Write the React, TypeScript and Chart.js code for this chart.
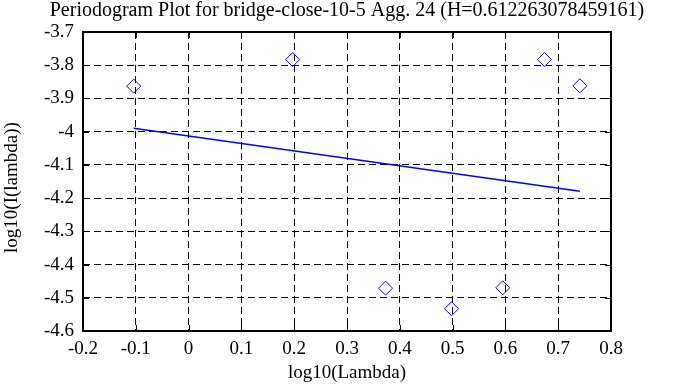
import React, { useEffect, useRef } from "react";
import { Chart, registerables } from "chart.js";

Chart.register(...registerables);

const TITLE = "Periodogram Plot for bridge-close-10-5 Agg. 24 (H=0.612263078459161)";
const X_TITLE = "log10(Lambda)";
const Y_TITLE = "log10(I(lambda))";

const pointsX = [-0.104, 0.197, 0.373, 0.498, 0.595, 0.674, 0.741];
const pointsY = [-3.863, -3.783, -4.471, -4.533, -4.470, -3.783, -3.862];

const fitX = [-0.104, 0.741];
const fitY = [-3.990, -4.179];

const xTickValues = [-0.2, -0.1, 0, 0.1, 0.2, 0.3, 0.4, 0.5, 0.6, 0.7, 0.8];
const xTickLabels = ["-0.2", "-0.1", "0", "0.1", "0.2", "0.3", "0.4", "0.5", "0.6", "0.7", "0.8"];
const yTickValues = [-4.6, -4.5, -4.4, -4.3, -4.2, -4.1, -4.0, -3.9, -3.8, -3.7];
const yTickLabels = ["-4.6", "-4.5", "-4.4", "-4.3", "-4.2", "-4.1", "-4", "-3.9", "-3.8", "-3.7"];

const FONT = "'Liberation Serif', 'Times New Roman', serif";
const BLUE = "#0000ff";

const framePlugin = {
  id: "frame",
  beforeDatasetsDraw(chart: any) {
    const { ctx, chartArea: a, scales } = chart;
    const xs = scales.x;
    const ys = scales.y;
    const tl = 6;
    ctx.save();
    ctx.strokeStyle = "#000";
    ctx.lineWidth = 1;
    ctx.setLineDash([]);
    ctx.beginPath();
    xTickValues.forEach((v) => {
      const px = Math.round(xs.getPixelForValue(v)) + 0.5;
      ctx.moveTo(px, a.bottom);
      ctx.lineTo(px, a.bottom - tl);
      ctx.moveTo(px, a.top);
      ctx.lineTo(px, a.top + tl);
    });
    yTickValues.forEach((v) => {
      const py = Math.round(ys.getPixelForValue(v)) + 0.5;
      ctx.moveTo(a.left, py);
      ctx.lineTo(a.left + tl, py);
      ctx.moveTo(a.right, py);
      ctx.lineTo(a.right - tl, py);
    });
    ctx.stroke();
    ctx.lineWidth = 2;
    ctx.strokeRect(a.left, a.top, a.right - a.left, a.bottom - a.top);
    ctx.restore();
  },
  afterDraw(chart: any) {
    const { ctx, chartArea: a } = chart;
    ctx.save();
    ctx.fillStyle = "#000";
    ctx.textAlign = "center";
    ctx.textBaseline = "middle";
    ctx.font = `20px ${FONT}`;
    ctx.fillText(TITLE, (a.left + a.right) / 2, 11);
    ctx.font = `19px ${FONT}`;
    ctx.translate(12, (a.top + a.bottom) / 2 + 6);
    ctx.rotate(-Math.PI / 2);
    ctx.fillText(Y_TITLE, 0, 0);
    ctx.restore();
  },
};

export default function App() {
  const ref = useRef<HTMLCanvasElement | null>(null);
  useEffect(() => {
    if (!ref.current) return;
    const chart = new Chart(ref.current, {
      type: "scatter",
      data: {
        datasets: [
          {
            type: "line",
            data: fitX.map((x, i) => ({ x, y: fitY[i] })),
            borderColor: BLUE,
            borderWidth: 1.5,
            pointRadius: 0,
            fill: false,
          } as any,
          {
            data: pointsX.map((x, i) => ({ x, y: pointsY[i] })),
            pointStyle: "rectRot",
            pointRadius: 7,
            pointBorderColor: BLUE,
            pointBackgroundColor: "rgba(0,0,0,0)",
            pointBorderWidth: 1,
            showLine: false,
          },
        ],
      },
      options: {
        animation: false,
        responsive: false,
        events: [],
        layout: { padding: { left: 0, right: 84, top: 32, bottom: 0 } },
        plugins: {
          legend: { display: false },
          tooltip: { enabled: false },
          title: { display: false },
        },
        scales: {
          x: {
            type: "linear",
            min: -0.2,
            max: 0.8,
            afterBuildTicks: (s: any) => {
              s.ticks = xTickValues.map((v) => ({ value: v }));
            },
            afterFit: (s: any) => {
              s.height = 56;
            },
            ticks: {
              color: "#000",
              font: { family: FONT, size: 19 },
              padding: 7,
              maxRotation: 0,
              autoSkip: false,
              callback: (_v: any, i: number) => xTickLabels[i],
            },
            grid: { color: "#000", lineWidth: 1, drawTicks: false },
            border: { display: false, dash: [7, 4] },
            title: {
              display: true,
              text: X_TITLE,
              color: "#000",
              font: { family: FONT, size: 19 },
              padding: 2.5,
            },
          },
          y: {
            type: "linear",
            min: -4.6,
            max: -3.7,
            afterBuildTicks: (s: any) => {
              s.ticks = yTickValues.map((v) => ({ value: v }));
            },
            afterFit: (s: any) => {
              s.width = 83;
            },
            ticks: {
              color: "#000",
              font: { family: FONT, size: 19 },
              padding: 9,
              autoSkip: false,
              callback: (_v: any, i: number) => yTickLabels[i],
            },
            grid: { color: "#000", lineWidth: 1, drawTicks: false },
            border: { display: false, dash: [7, 4] },
            title: { display: false },
          },
        },
      },
      plugins: [framePlugin],
    });
    return () => chart.destroy();
  }, []);

  return (
    <div style={{ position: "fixed", left: 0, top: 0, width: 695, height: 387, background: "#fff" }}>
      <canvas ref={ref} width={695} height={387} style={{ width: 695, height: 387, display: "block" }} />
    </div>
  );
}
